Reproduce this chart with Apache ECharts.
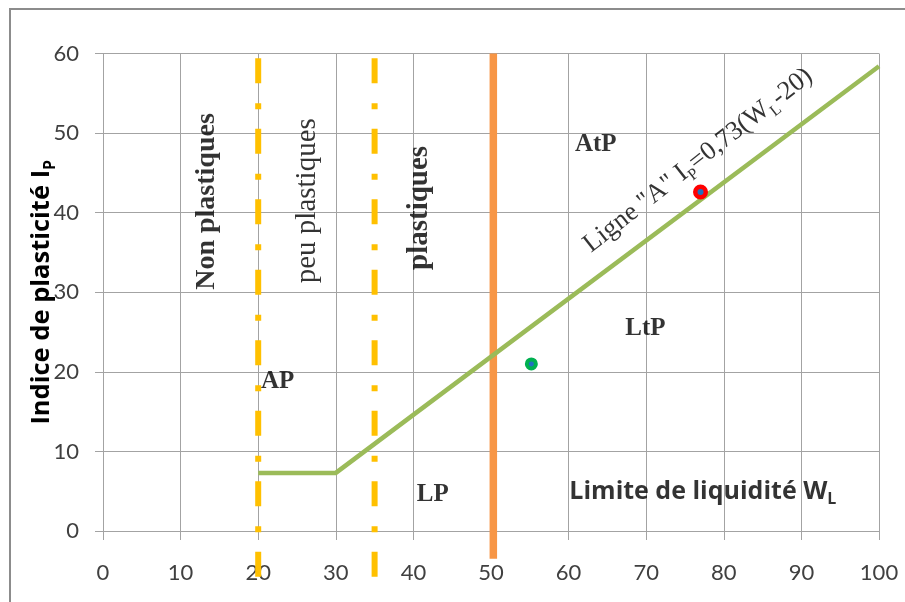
<!DOCTYPE html>
<html>
<head>
<meta charset="utf-8">
<script src="https://cdn.jsdelivr.net/npm/echarts@6/dist/echarts.min.js"></script>
<style>
  html, body { margin: 0; padding: 0; background: #fff; }
  #chart { width: 905px; height: 602px; }
</style>
</head>
<body>
<div id="chart"></div>
<script>
// Casagrande plasticity chart: liquid limit W_L vs plasticity index I_P

const xTicks = [0, 10, 20, 30, 40, 50, 60, 70, 80, 90, 100];
const yTicks = [0, 10, 20, 30, 40, 50, 60];

// Ligne "A": I_P = 0,73 (W_L - 20), with its horizontal plateau up to W_L = 30
const ligneA = [[20, 7.3], [30, 7.3], [100, 58.4]];

// Plasticity boundaries
const limiteNonPlastique = [[20, 59.4], [20, -6.2]];
const limitePeuPlastique = [[35, 59.4], [35, -6.2]];
const limiteWL50 = [[50.3, 60], [50.3, -3.5]];

// Tested soil samples
const echantillonRouge = [[77.0, 42.6]];
const echantillonVert = [[55.2, 21.0]];

const SERIF = '"Liberation Serif", "Times New Roman", serif';
const SANS = 'Lato, "Open Sans", sans-serif';
const SANS_WIDE = '"Open Sans", Lato, sans-serif';
const GRID_COLOR = '#a3a3a3';

const chart = echarts.init(document.getElementById('chart'), null, { renderer: 'canvas' });

const dashDot = [25, 20, 6, 19.5];

function note(text, at, opts) {
  return {
    value: at,
    label: Object.assign({
      show: true,
      position: 'inside',
      formatter: text,
      color: '#000',
      fontFamily: SERIF,
      fontWeight: 'bold',
      fontSize: 26
    }, opts || {})
  };
}

const subRich = (size, weight, family) => ({
  a: { fontSize: size, fontWeight: weight, fontFamily: family, color: '#000', verticalAlign: 'bottom', lineHeight: size * 1.2 },
  s: { fontSize: Math.round(size * 0.62), fontWeight: weight, fontFamily: family, color: '#000', verticalAlign: 'bottom', lineHeight: size * 1.2, padding: [0, 0, -3, 0] }
});

const option = {
  animation: false,
  backgroundColor: '#fff',
  graphic: [{
    type: 'rect',
    shape: { x: 10, y: 9, width: 1000, height: 1000 },
    style: { fill: 'none', stroke: '#8c8c8c', lineWidth: 2 },
    silent: true,
    z: -10
  }],
  grid: { left: 103, right: 26, top: 53.5, bottom: 71, outerBoundsMode: 'none', containLabel: false },
  xAxis: {
    type: 'value',
    min: xTicks[0], max: xTicks[xTicks.length - 1], interval: xTicks[1] - xTicks[0],
    axisLine: { show: true, lineStyle: { color: GRID_COLOR, width: 1 } },
    axisTick: { show: true, length: 9, lineStyle: { color: GRID_COLOR } },
    axisLabel: { color: '#404040', fontFamily: SANS, fontSize: 22, margin: 31 },
    splitLine: { show: true, lineStyle: { color: GRID_COLOR, width: 1 } }
  },
  yAxis: {
    type: 'value',
    min: yTicks[0], max: yTicks[yTicks.length - 1], interval: yTicks[1] - yTicks[0],
    name: '{a|Indice de plasticité I}{s|P}',
    nameLocation: 'middle',
    nameRotate: 90,
    nameGap: 48,
    nameMoveOverlap: false,
    nameTextStyle: { rich: subRich(25.5, 'bold', SANS_WIDE) },
    axisLine: { show: true, lineStyle: { color: GRID_COLOR, width: 1 } },
    axisTick: { show: true, length: 8, lineStyle: { color: GRID_COLOR } },
    axisLabel: { color: '#404040', fontFamily: SANS, fontSize: 22, margin: 24 },
    splitLine: { show: true, lineStyle: { color: GRID_COLOR, width: 1 } }
  },
  series: [
    {
      name: 'Non plastiques / peu plastiques',
      type: 'line', data: limiteNonPlastique, clip: false, symbol: 'none', z: 3,
      lineStyle: { color: '#FFC000', width: 6, type: dashDot, cap: 'butt' }
    },
    {
      name: 'peu plastiques / plastiques',
      type: 'line', data: limitePeuPlastique, clip: false, symbol: 'none', z: 3,
      lineStyle: { color: '#FFC000', width: 6, type: dashDot, cap: 'butt' }
    },
    {
      name: 'W_L = 50',
      type: 'line', data: limiteWL50, clip: false, symbol: 'none', z: 4,
      lineStyle: { color: '#F79646', width: 7.5, cap: 'butt' }
    },
    {
      name: 'Ligne A',
      type: 'line', data: ligneA, clip: false, symbol: 'none', z: 5,
      lineStyle: { color: '#9BBB59', width: 4.5, cap: 'butt', join: 'miter' }
    },
    {
      name: 'Echantillon 1',
      type: 'scatter', data: echantillonRouge, symbol: 'circle', symbolSize: 10.5, z: 6,
      itemStyle: { color: '#2070C0', borderColor: '#FF0000', borderWidth: 4.5, opacity: 1 }
    },
    {
      name: 'Echantillon 2',
      type: 'scatter', data: echantillonVert, symbol: 'circle', symbolSize: 9, z: 6,
      itemStyle: { color: '#2070C0', borderColor: '#00B050', borderWidth: 4, opacity: 1 }
    },
    {
      name: 'annotations',
      type: 'scatter', symbol: 'circle', symbolSize: 1, silent: true, z: 7,
      itemStyle: { color: 'rgba(0,0,0,0)', borderWidth: 0 },
      labelLayout: { hideOverlap: false },
      data: [
        note('Non plastiques', [13.4, 41.4], { rotate: 90, fontSize: 28 }),
        note('peu plastiques', [26.4, 41.5], { rotate: 90, fontSize: 29, fontWeight: 'normal' }),
        note('plastiques', [40.8, 40.6], { rotate: 90, fontSize: 29 }),
        note('AtP', [63.5, 48.6], { fontSize: 25 }),
        note('LtP', [69.9, 25.4], { fontSize: 25 }),
        note('AP', [22.5, 18.8], { fontSize: 25 }),
        note('LP', [42.5, 4.6], { fontSize: 25 }),
        note('{a|Limite de liquidité W}{s|L}', [77.3, 5.2], { rich: subRich(25, 'bold', SANS_WIDE) }),
        note('{a|Ligne "A" I}{s|P}{a|=0,73(W}{s|L}{a|-20)}', [76.5, 46.8], { rotate: 38, rich: subRich(26.5, 'normal', SERIF) })
      ]
    }
  ]
};

chart.setOption(option);
</script>
</body>
</html>
